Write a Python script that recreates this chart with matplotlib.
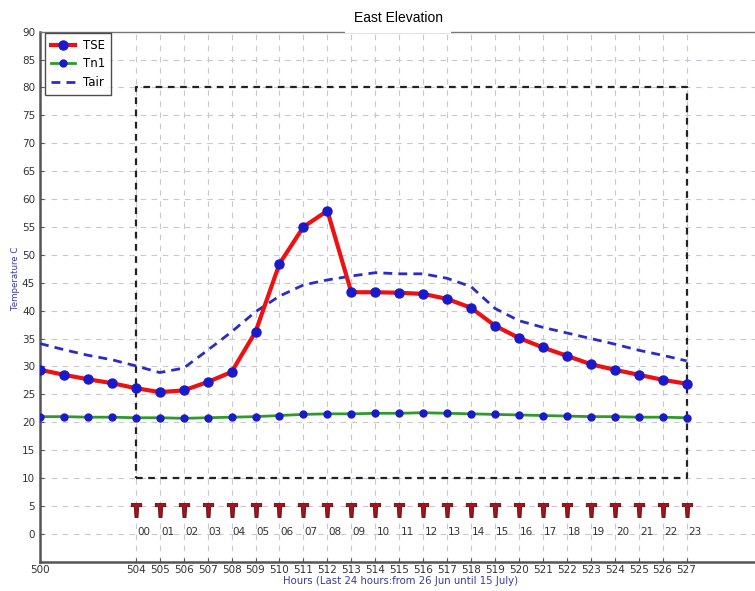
import numpy as np
import matplotlib.pyplot as plt
from matplotlib.path import Path

OUT_PNG = "out.png"

hours = list(range(500, 528))
tse = [29.4, 28.5, 27.7, 27.0, 26.1, 25.4, 25.7, 27.2, 29.0, 36.2,
       48.4, 55.0, 57.9, 43.3, 43.3, 43.2, 43.0, 42.1, 40.5, 37.3,
       35.1, 33.4, 31.9, 30.4, 29.4, 28.5, 27.6, 26.9]
tn1 = [21.0, 21.0, 20.9, 20.9, 20.8, 20.8, 20.7, 20.8, 20.9, 21.0,
       21.2, 21.4, 21.5, 21.5, 21.6, 21.6, 21.7, 21.6, 21.5, 21.4,
       21.3, 21.2, 21.1, 21.0, 21.0, 20.9, 20.9, 20.8]
tair = [34.1, 33.0, 32.0, 31.2, 30.1, 28.9, 29.7, 32.9, 36.2, 39.8,
        42.6, 44.6, 45.5, 46.2, 46.8, 46.6, 46.6, 45.8, 44.3, 40.4,
        38.2, 37.0, 36.0, 35.0, 34.0, 32.9, 32.0, 31.0]

day_hours = list(range(504, 528))
hour_labels = ["%02d" % h for h in range(24)]
marker_level = 4.35
label_level = 0.3

box_x = [504, 527, 527, 504, 504]
box_y = [10, 10, 80, 80, 10]

xticks = [500] + day_hours
yticks = list(range(0, 95, 5))

# T shaped pin marker
t_verts = [(-0.75, 1), (0.75, 1), (0.75, 0.55), (0.3, 0.55), (0.22, -1),
           (-0.22, -1), (-0.3, 0.55), (-0.75, 0.55), (-0.75, 1)]
t_marker = Path(t_verts, closed=True)

fig = plt.figure(figsize=(7.55, 5.91), dpi=100)
ax = fig.add_axes([40 / 755, 0.0496, 716 / 755, 0.8968])

ax.plot(hours, tair, color="#2b2bcc", lw=2, ls=(0, (3.2, 2.2)), label="Tair", zorder=3)
ax.plot(hours, tse, color="#ee1111", lw=3, marker="o", ms=6.5,
        mfc="#1a1acc", mec="#1a1acc", label="TSE", zorder=4)
ax.plot(hours, tn1, color="#2e9a2e", lw=2, marker="o", ms=5,
        mfc="#1a1acc", mec="#1a1acc", label="Tn1", zorder=4)

ax.plot(box_x, box_y, color="#222222", lw=1.6, ls=(0, (3, 2.5)), zorder=2)

ax.plot(day_hours, [marker_level] * len(day_hours), ls="none", marker=t_marker,
        ms=10, mfc="#a8121c", mec="#5a0a0e", mew=0.6, zorder=3)
for h, lab in zip(day_hours, hour_labels):
    ax.text(h + 0.05, label_level, lab, ha="left", va="center",
            fontsize=7.5, color="#333333")

ax.set_xlim(500, 529.9)
ax.set_ylim(-5, 90)
ax.set_xticks(xticks)
ax.set_yticks(yticks)
ax.tick_params(labelsize=7.5, labelcolor="#333333", color="#555555",
               length=3, direction="in")
ax.tick_params(axis="x", pad=2.5)
ax.grid(True, color="#c8c8d0", lw=0.8, ls=(0, (5, 5)))
ax.set_axisbelow(True)

for side in ["left", "bottom"]:
    ax.spines[side].set_linewidth(1.8)
    ax.spines[side].set_color("#555555")
ax.spines["top"].set_linewidth(1.0)
ax.spines["top"].set_color("#777777")
ax.spines["right"].set_visible(False)

ax.set_ylabel("Temperature C", fontsize=6.2, color="#3a3aa8")
ax.yaxis.set_label_coords(-0.034, 0.534)
ax.yaxis.label.set_va("center")
ax.set_xlabel("Hours (Last 24 hours:from 26 Jun until 15 July)", fontsize=7.3,
              color="#3a3aa8")
ax.xaxis.set_label_coords(0.503, -0.0365)
ax.xaxis.label.set_va("center")

handles, labels = ax.get_legend_handles_labels()
order = [1, 2, 0]
leg = ax.legend([handles[i] for i in order], [labels[i] for i in order],
                loc="upper left", fontsize=8.5, fancybox=False,
                handlelength=2.0, borderpad=0.5, labelspacing=0.45,
                handletextpad=0.7, borderaxespad=0,
                bbox_to_anchor=(0.007, 0.997))
leg.get_frame().set_edgecolor("#222222")
leg.get_frame().set_linewidth(1.0)

ax.annotate("East Elevation", xy=(0.5, 1.0), xycoords="axes fraction",
            xytext=(0, 10), textcoords="offset points", ha="center", va="center",
            fontsize=10, family="Liberation Sans", annotation_clip=False,
            bbox=dict(boxstyle="square,pad=0.6", facecolor="white", edgecolor="none"),
            zorder=10)

plt.savefig(OUT_PNG, dpi=100)
